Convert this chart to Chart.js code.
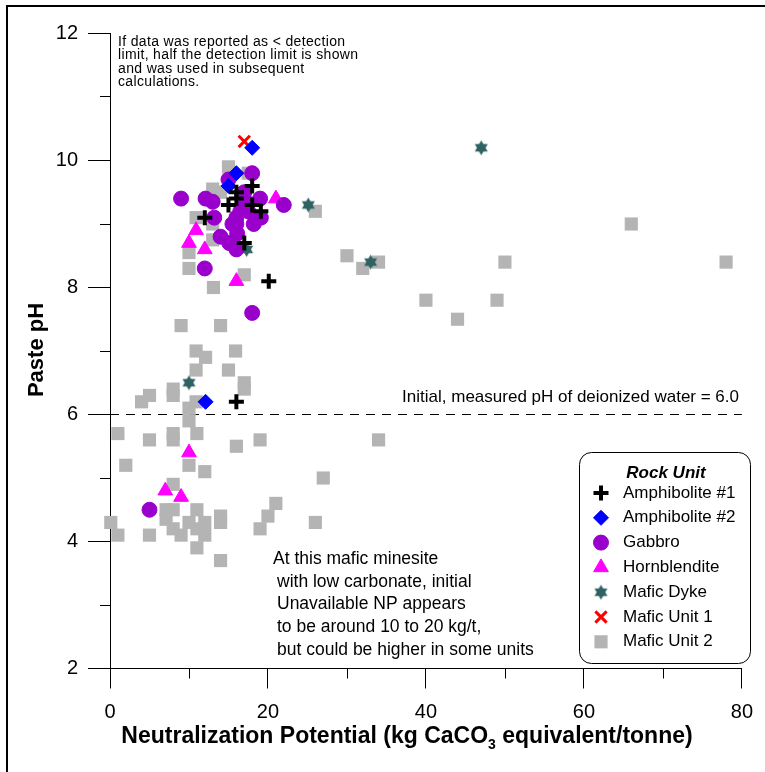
<!DOCTYPE html>
<html>
<head>
<meta charset="utf-8">
<title>Paste pH vs Neutralization Potential</title>
<script src="https://cdn.jsdelivr.net/npm/chart.js@4/dist/chart.umd.min.js"></script>
<style>
  body { margin: 0; background: #fff; }
  #wrap { width: 765px; height: 772px; position: relative; }
</style>
</head>
<body>
<div id="wrap"><canvas id="chart"></canvas></div>
<script>
// Data: [NP (kg CaCO3/t), paste pH]
const amphibolite1 = [[18, 9.6], [16, 9.5], [15, 9.3], [16, 9.4], [18, 9.3], [19.1, 9.2], [12, 9.1], [17, 8.7], [20.1, 8.1], [16, 6.2]];
const amphibolite2 = [[18, 10.2], [16, 9.8], [15, 9.6], [12.1, 6.2]];
const gabbro = [[9, 9.4], [12.1, 9.4], [13, 9.35], [15, 9.7], [18, 9.8], [17, 9.5], [17.2, 9.35], [19, 9.4], [22, 9.3],
  [13.2, 9.1], [16, 9.1], [16, 9.0], [18.2, 9.0], [19.1, 9.1], [14, 8.8], [15.1, 8.7], [16, 8.6], [16.1, 8.85],
  [16.5, 9.2], [17.5, 9.2], [15.5, 9.0], [12, 8.3], [18, 7.6], [5, 4.5]];
const hornblendite = [[21, 9.4], [10.9, 8.9], [10, 8.7], [12, 8.6], [16, 8.1], [10, 5.4], [7, 4.8], [9, 4.7]];
const maficDyke = [[47, 10.2], [25.1, 9.3], [33, 8.4], [17.3, 8.6], [10, 6.5]];
const maficUnit1 = [[17, 10.3]];
const maficUnit2 = [[15, 9.9], [13, 9.55], [14, 9.5], [17.5, 9.8], [10.9, 9.1], [13, 9.0], [13, 8.75], [10, 8.55],
  [10, 8.3], [17, 8.2], [13.1, 8.0], [9, 7.4], [14, 7.4], [10.9, 7.0], [15.9, 7.0], [12.1, 6.9], [10.9, 6.7], [15, 6.7],
  [17, 6.5], [17, 6.4], [5, 6.3], [4, 6.2], [8, 6.4], [8, 6.3], [10.9, 6.2], [10, 6.1], [10, 5.9],
  [1, 5.7], [5, 5.6], [8, 5.7], [8, 5.6], [11, 5.7], [16, 5.5], [19, 5.6], [10, 5.2], [2, 5.2], [12, 5.1], [27, 5.0],
  [8, 4.9], [21, 4.6], [20, 4.4], [19, 4.2], [26, 4.3], [0.1, 4.3], [1, 4.1], [5, 4.1],
  [7.1, 4.5], [8, 4.5], [7.1, 4.35], [8, 4.2], [9, 4.1], [10, 4.3], [11, 4.5], [11, 4.2], [12, 4.3], [12, 4.1],
  [11, 3.9], [14, 4.4], [14, 4.3], [14, 3.7],
  [26, 9.2], [30, 8.5], [32, 8.3], [34, 8.4], [50, 8.4], [40, 7.8], [49, 7.8], [44, 7.5], [66, 9.0], [78, 8.4], [34, 5.6]];
const waterLine = [[0, 6.0], [80, 6.0]];

const seriesNames = ['Amphibolite #1', 'Amphibolite #2', 'Gabbro', 'Hornblendite', 'Mafic Dyke', 'Mafic Unit 1', 'Mafic Unit 2'];
const xTicks = [0, 20, 40, 60, 80];
const xMinorTicks = [10, 30, 50, 70];
const yTicks = [2, 4, 6, 8, 10, 12];
const yMinorTicks = [3, 5, 7, 9, 11];

const FONT = '"Liberation Sans", Arial, sans-serif';
const toPts = arr => arr.map(([x, y]) => ({ x, y }));

// filled six-pointed star, used as point image for Mafic Dyke
function makeStar(color, r) {
  const c = document.createElement('canvas');
  const s = Math.ceil(r * 2 + 2);
  c.width = c.height = s;
  const g = c.getContext('2d');
  g.fillStyle = color;
  [-Math.PI / 2, Math.PI / 2].forEach(off => {
    g.beginPath();
    for (let k = 0; k < 3; k++) {
      const a = off + k * 2 * Math.PI / 3;
      g.lineTo(s / 2 + r * Math.cos(a), s / 2 + r * Math.sin(a));
    }
    g.closePath();
    g.fill();
  });
  return c;
}
const starImg = makeStar('#2f6262', 7.5);

function series(label, data, style, color, radius, bw) {
  return {
    label: label,
    data: toPts(data),
    pointStyle: style,
    pointRadius: radius,
    pointHoverRadius: radius,
    backgroundColor: color,
    borderColor: color,
    borderWidth: bw,
    clip: false
  };
}

const datasets = [
  series('Amphibolite #1', amphibolite1, 'cross', '#000000', 7.5, 4),
  series('Amphibolite #2', amphibolite2, 'rectRot', '#0000ff', 7.5, 1),
  series('Gabbro', gabbro, 'circle', '#9900cc', 7.5, 1),
  series('Hornblendite', hornblendite, 'triangle', '#ff00ff', 8.5, 1),
  series('Mafic Dyke', maficDyke, starImg, '#2f6262', 7.5, 0),
  series('Mafic Unit 1', maficUnit1, 'crossRot', '#ff0000', 8, 3),
  series('Mafic Unit 2', maficUnit2, 'rect', '#b4b4b4', 9.3, 0),
  {
    label: 'water',
    data: toPts(waterLine),
    showLine: true,
    borderColor: '#000',
    borderWidth: 1,
    borderDash: [9, 7],
    pointRadius: 0,
    order: 10,
    clip: false
  }
];

const decorPlugin = {
  id: 'decor',
  afterDraw(chart) {
    const ctx = chart.ctx;
    const xs = chart.scales.x, ys = chart.scales.y;
    const area = chart.chartArea;
    ctx.save();

    // outer frame (top and left edges visible)
    ctx.strokeStyle = '#000';
    ctx.lineWidth = 2;
    ctx.beginPath();
    ctx.moveTo(765, 6); ctx.lineTo(7, 6); ctx.lineTo(7, 772);
    ctx.stroke();

    // minor ticks
    ctx.lineWidth = 1;
    ctx.beginPath();
    xMinorTicks.forEach(v => {
      const p = Math.round(xs.getPixelForValue(v)) + 0.5;
      ctx.moveTo(p, area.bottom); ctx.lineTo(p, area.bottom + 10);
    });
    yMinorTicks.forEach(v => {
      const p = Math.floor(ys.getPixelForValue(v)) + 0.5;
      ctx.moveTo(area.left - 10, p); ctx.lineTo(area.left, p);
    });
    ctx.stroke();

    ctx.fillStyle = '#000';
    // axis titles
    ctx.save();
    ctx.translate(37, 350);
    ctx.rotate(-Math.PI / 2);
    ctx.font = 'bold 22px ' + FONT;
    ctx.textAlign = 'center';
    ctx.textBaseline = 'middle';
    ctx.fillText('Paste pH', 0, 0);
    ctx.restore();

    const big = 'bold 23px ' + FONT, small = 'bold 14px ' + FONT;
    const partA = 'Neutralization Potential (kg CaCO', sub = '3', partB = ' equivalent/tonne)';
    ctx.font = big;
    const wA = ctx.measureText(partA).width, wB = ctx.measureText(partB).width;
    ctx.font = small;
    const wS = ctx.measureText(sub).width;
    let tx = 407 - (wA + wS + wB) / 2;
    ctx.textAlign = 'left';
    ctx.textBaseline = 'alphabetic';
    ctx.font = big; ctx.fillText(partA, tx, 743); tx += wA;
    ctx.font = small; ctx.fillText(sub, tx, 749); tx += wS;
    ctx.font = big; ctx.fillText(partB, tx, 743);

    // notes
    ctx.textBaseline = 'middle';
    ctx.font = '14px ' + FONT;
    ctx.letterSpacing = '0.35px';
    ['If data was reported as < detection', 'limit, half the detection limit is shown',
     'and was used in subsequent', 'calculations.'].forEach((t, i) => ctx.fillText(t, 118, 42 + i * 13.5));
    ctx.letterSpacing = '0px';

    ctx.font = '17px ' + FONT;
    ctx.textAlign = 'right';
    ctx.fillText('Initial, measured pH of deionized water = 6.0', 739, 397);

    ctx.textAlign = 'left';
    ctx.font = '17.5px ' + FONT;
    ['At this mafic minesite', 'with low carbonate, initial', 'Unavailable NP appears',
     'to be around 10 to 20 kg/t,', 'but could be higher in some units']
      .forEach((t, i) => ctx.fillText(t, i === 0 ? 273 : 277, 559 + i * 22.7));

    // legend
    ctx.beginPath();
    ctx.roundRect(579.5, 452.5, 171, 211, 12);
    ctx.fillStyle = '#fff';
    ctx.fill();
    ctx.strokeStyle = '#000';
    ctx.lineWidth = 1;
    ctx.stroke();
    ctx.fillStyle = '#000';
    ctx.font = 'italic bold 17px ' + FONT;
    ctx.textAlign = 'center';
    ctx.fillText('Rock Unit', 666, 473);
    ctx.font = '17px ' + FONT;
    ctx.textAlign = 'left';
    chart.data.datasets.filter(ds => seriesNames.includes(ds.label)).forEach((ds, i) => {
      const y = 493 + i * 24.8;
      ctx.fillStyle = ds.backgroundColor;
      ctx.strokeStyle = ds.borderColor;
      ctx.lineWidth = ds.borderWidth;
      Chart.helpers.drawPoint(ctx, {
        pointStyle: ds.pointStyle, radius: ds.pointRadius, rotation: 0, borderWidth: ds.borderWidth
      }, 601, y);
      ctx.fillStyle = '#000';
      ctx.fillText(ds.label, 623, y);
    });
    ctx.restore();
  }
};

new Chart(document.getElementById('chart'), {
  type: 'scatter',
  data: { datasets: datasets },
  options: {
    responsive: true,
    maintainAspectRatio: false,
    animation: false,
    events: [],
    layout: { padding: { top: 33.5, right: 19, left: 0, bottom: 0 } },
    plugins: { legend: { display: false }, tooltip: { enabled: false } },
    scales: {
      x: {
        type: 'linear', min: 0, max: 80,
        afterBuildTicks: s => { s.ticks = xTicks.map(v => ({ value: v })); },
        afterFit: s => { s.height = 103.5; },
        grid: { drawOnChartArea: false, drawTicks: true, tickLength: 20, color: '#000', lineWidth: 1 },
        border: { display: true, color: '#000', width: 1 },
        ticks: { color: '#000', font: { family: FONT, size: 20 }, padding: 12, maxRotation: 0 }
      },
      y: {
        type: 'linear', min: 2, max: 12,
        afterBuildTicks: s => { s.ticks = yTicks.map(v => ({ value: v })); },
        afterFit: s => { s.width = 110; },
        grid: { drawOnChartArea: false, drawTicks: true, tickLength: 22, color: '#000', lineWidth: 1 },
        border: { display: true, color: '#000', width: 1 },
        ticks: { color: '#000', font: { family: FONT, size: 20 }, padding: 10 }
      }
    }
  },
  plugins: [decorPlugin]
});
</script>
</body>
</html>
